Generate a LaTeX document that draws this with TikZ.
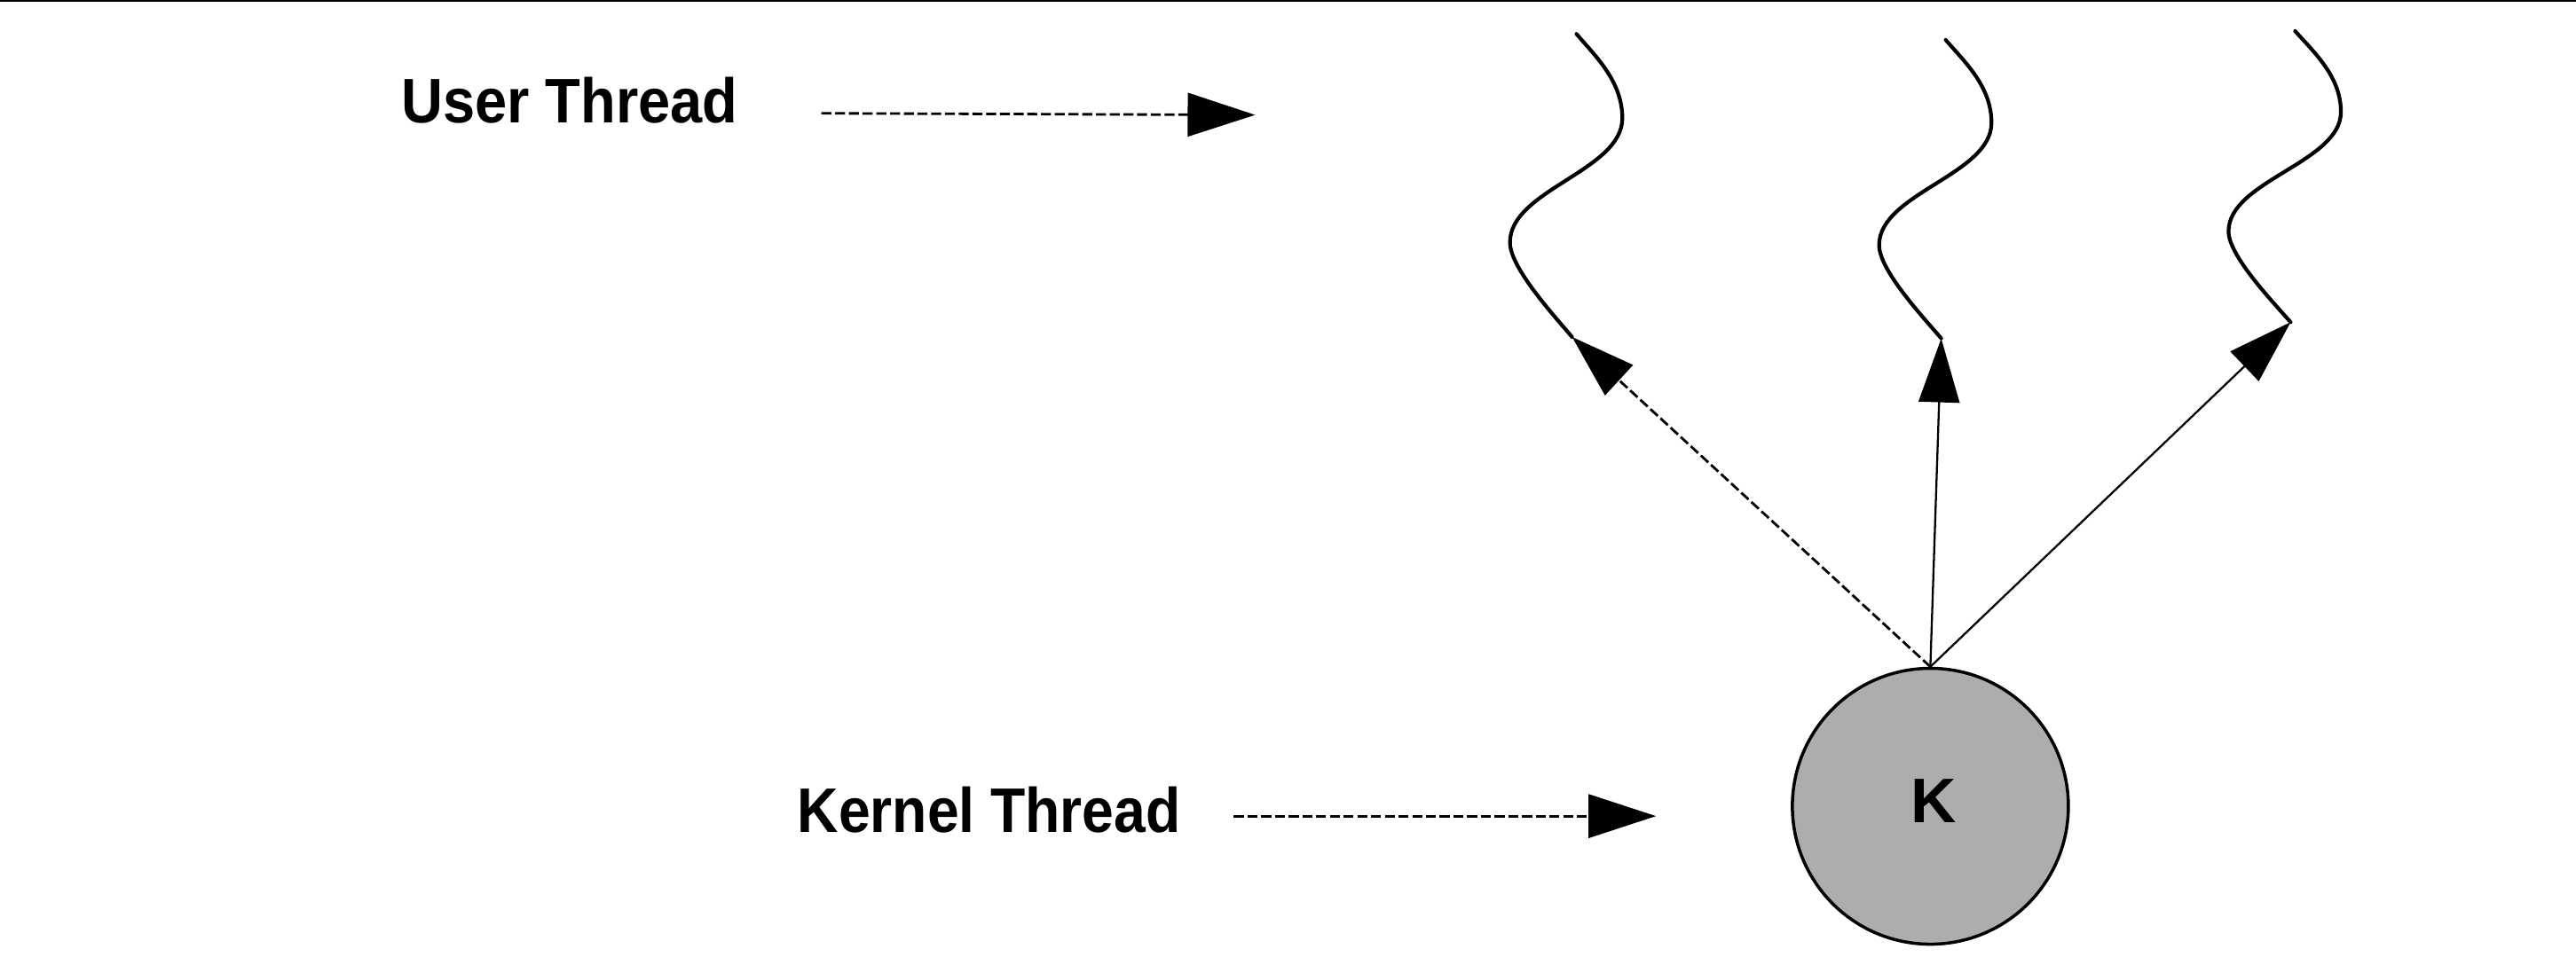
\documentclass[tikz,border=0pt]{standalone}
\usepackage{fontspec}
\setmainfont{Liberation Sans}
\usetikzlibrary{arrows.meta}
\tikzset{
  lbl/.style={inner sep=0pt, font=\fontsize{20.2}{24}\selectfont\bfseries},
  tip/.style={-{Triangle[length=0.76cm,width=0.49cm]}},
  ttip/.style={-{Triangle[length=0.72cm,width=0.46cm]}},
  dashline/.style={line width=0.8pt, dash pattern=on 3.2pt off 1.2pt},
  thinline/.style={line width=0.65pt},
  wave/.style={line width=1.2pt, line cap=round},
  kcircle/.style={circle, draw, line width=1pt, fill=black!32, minimum size={168*0.018514cm}, inner sep=0pt}
}
\newcommand{\wavepath}{(0,0) .. controls (12,14) and (27.9,29) .. (27.9,51.3) .. controls (27.9,83.3) and (-40.5,94.9) .. (-40.5,126.9) .. controls (-40.5,142) and (-15,170) .. (-2.7,184.5)}
\begin{document}
\begin{tikzpicture}[x=0.018514cm, y=-0.018514cm]
\useasboundingbox (0,0) rectangle (1568,582.8);
\draw[line width=0.6pt] (0,0.6) -- (1568,0.6);

% labels
\node[lbl, anchor=base west] (ut) at (244,74.7) {\scalebox{0.915}[1]{User Thread}};
\node[lbl, anchor=base west] (kt) at (485,507) {\scalebox{0.905}[1]{Kernel Thread}};

% pointer arrows
\coordinate (ua) at (500,69);
\coordinate (ub) at (764,70);
\coordinate (ka) at (751,497);
\coordinate (kb) at (1008,497);
\draw[dashline, tip] (ua) -- (ub);
\draw[dashline, tip] (ka) -- (kb);

% kernel thread circle
\node[kcircle] (k) at (1175,491) {};
\node[lbl, anchor=base] (klbl) at (1177,501) {K};

% user threads
\coordinate (t1) at (959.6,20.7);  \coordinate (e1) at (956.9,205.2);
\coordinate (t2) at (1184.3,24.3); \coordinate (e2) at (1181.6,206.1);
\coordinate (t3) at (1397,18.9);   \coordinate (e3) at (1394.3,196.2);

\draw[wave, shift={(t1)}] \wavepath;
\draw[wave, shift={(t2)}, yscale=0.985] \wavepath;
\draw[wave, shift={(t3)}, yscale=0.961] \wavepath;

% connectors from kernel thread
\draw[dashline, ttip] (k.north) -- (e1);
\draw[thinline, ttip] (k.north) -- (e2);
\draw[thinline, ttip] (k.north) -- (e3);
\end{tikzpicture}
\end{document}
